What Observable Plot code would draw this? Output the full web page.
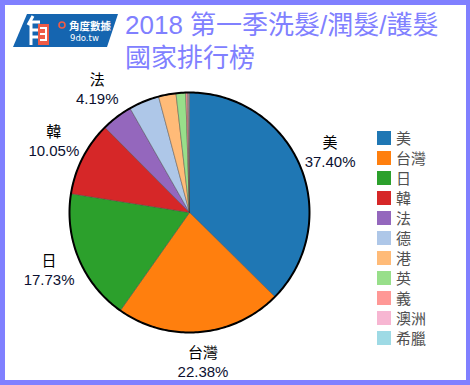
<!DOCTYPE html>
<html>
<head>
<meta charset="utf-8">
<script src="https://cdn.jsdelivr.net/npm/d3@7"></script>
<script src="https://cdn.jsdelivr.net/npm/@observablehq/plot@0.6"></script>
<style>
  html, body { margin: 0; padding: 0; background: #fff; }
  #page { position: relative; width: 470px; height: 385px; overflow: hidden; background: #fff; }
  #frame { position: absolute; left: 0; top: 0; width: 470px; height: 385px; box-sizing: border-box;
           border-style: solid; border-color: #8080ff; border-width: 5px 4px 5px 5px; pointer-events: none; z-index: 5; }
  #chart { position: absolute; left: 0; top: 0; }
  #logo { position: absolute; left: 0; top: 0; }
  .title { position: absolute; left: 125px; font-family: "Liberation Sans", "Noto Sans CJK TC", sans-serif;
           font-size: 26px; line-height: 26px; height: 26px; color: #8080ff; white-space: nowrap; }
  #t1 { top: 12px; }
  #t2 { top: 45px; }
  #legend { position: absolute; left: 377px; top: 131px; font-family: "Noto Sans CJK TC", sans-serif; font-size: 15px; color: #505050; }
  .row { height: 20px; display: flex; align-items: flex-start; }
  .sw { width: 14px; height: 14px; margin-right: 5px; }
  .lb { line-height: 14px; white-space: nowrap; }
</style>
</head>
<body>
<div id="page">
  <svg id="logo" width="125" height="55">
    <polygon points="27,14 118,14 107,47 13,47" fill="#1565b0"/>
    <path d="M33,16 L28,25 M29,22 L40,22 M31,22 L31,45 M31,30 L38,30 M31,37 L38,37" stroke="#fff" stroke-width="3" fill="none"/>
    <rect x="38" y="24" width="11" height="21" fill="#ef5b46"/>
    <path d="M40,28 L46,28 L46,41 M40,34 L46,34 M40,40 L46,40" stroke="#fff" stroke-width="2" fill="none"/>
    <circle cx="62" cy="25" r="3" fill="none" stroke="#ef5b46" stroke-width="1.6"/>
    <text x="69" y="29.5" fill="#fff" font-size="10.5" font-weight="bold" font-family="Noto Sans CJK TC, sans-serif">角度數據</text>
    <text x="70" y="41" fill="#fff" font-size="8.5" font-family="DejaVu Sans, sans-serif">9do.tw</text>
  </svg>
  <div id="t1" class="title">2018 第一季洗髮/潤髮/護髮</div>
  <div id="t2" class="title">國家排行榜</div>
  <div id="chart"></div>
  <div id="legend"></div>
  <div id="frame"></div>
</div>
<script>
// ---- data ----
const names  = ["美", "台灣", "日", "韓", "法", "德", "港", "英", "義", "澳洲", "希臘"];
const shares = [37.40, 22.38, 17.73, 10.05, 4.19, 4.10, 2.35, 1.30, 0.25, 0.15, 0.10];
const colors = ["#1f77b4", "#ff7f0e", "#2ca02c", "#d62728", "#9467bd", "#aec7e8",
                "#ffbb78", "#98df8a", "#ff9896", "#f7b6d2", "#9edae5"];
const labelMin = 4.15; // slices below this share are not labelled

// ---- pie geometry in data units (radius = 1) ----
const arcs = d3.pie().sort(null).value(d => d)(shares);
const slicePts = [];
arcs.forEach((a, i) => {
  const n = Math.max(2, Math.ceil((a.endAngle - a.startAngle) / (Math.PI / 180)));
  slicePts.push({name: names[i], x: 0, y: 0});
  for (let k = 0; k <= n; k++) {
    const t = a.startAngle + (a.endAngle - a.startAngle) * k / n;
    slicePts.push({name: names[i], x: Math.sin(t), y: Math.cos(t)});
  }
  slicePts.push({name: names[i], x: 0, y: 0});
});
const rim = d3.range(0, 361).map(d => ({x: Math.sin(d * Math.PI / 180), y: Math.cos(d * Math.PI / 180)}));
const labels = arcs.map((a, i) => {
  const m = (a.startAngle + a.endAngle) / 2;
  return {name: names[i], pct: shares[i].toFixed(2) + "%", v: shares[i], x: 1.27 * Math.sin(m), y: 1.27 * Math.cos(m)};
}).filter(d => d.v >= labelMin);

// ---- layout: pie centre at (189,212), radius 120px ----
const R = 120, cx = 189, cy = 212, W = 470, H = 385;
const chart = Plot.plot({
  width: W, height: H, margin: 0,
  x: {domain: [-cx / R, (W - cx) / R], axis: null},
  y: {domain: [-(H - cy) / R, cy / R], axis: null},
  color: {domain: names, range: colors},
  style: {background: "transparent", overflow: "visible"},
  marks: [
    Plot.line(slicePts, {x: "x", y: "y", z: "name", fill: "name", stroke: "#444", strokeWidth: 0.6, strokeOpacity: 0.7, curve: "linear"}),
    Plot.line(rim, {x: "x", y: "y", stroke: "#000", strokeWidth: 2, fill: "none"}),
    Plot.text(labels, {x: "x", y: "y", text: "name", dy: -11, fontSize: 15, fill: "#000",
      fontFamily: "Noto Sans CJK TC, sans-serif"}),
    Plot.text(labels, {x: "x", y: "y", text: "pct", dy: 8, fontSize: 15, fill: "#0b1030",
      fontFamily: "Liberation Sans, Arial, sans-serif"})
  ]
});
document.getElementById("chart").appendChild(chart);

// ---- legend ----
const lg = document.getElementById("legend");
names.forEach((n, i) => {
  const row = document.createElement("div");
  row.className = "row";
  const sw = document.createElement("div");
  sw.className = "sw";
  sw.style.background = colors[i];
  const lb = document.createElement("div");
  lb.className = "lb";
  lb.textContent = n;
  row.appendChild(sw); row.appendChild(lb);
  lg.appendChild(row);
});
</script>
</body>
</html>
